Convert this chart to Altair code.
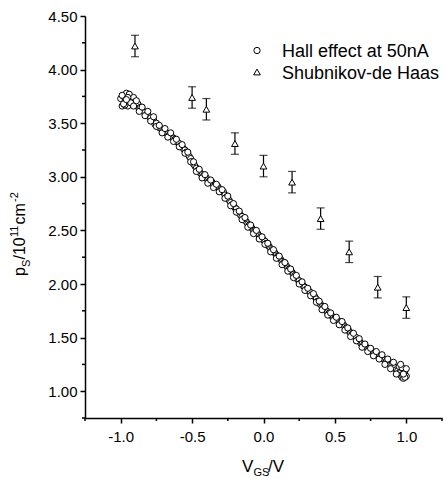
import altair as alt
import pandas as pd

HALL = "Hall effect at 50nA"
SDH = "Shubnikov-de Haas"

# Hall effect sweep (first pass, 0.01 V steps)
hall_x1 = [round(-1.00 + 0.01 * i, 2) for i in range(201)]
hall_y1 = [
    3.73, 3.66, 3.75, 3.70, 3.78, 3.66, 3.77, 3.72, 3.68, 3.74,
    3.70, 3.66, 3.68, 3.64, 3.65, 3.62, 3.61, 3.60, 3.58, 3.58,
    3.56, 3.55, 3.52, 3.53, 3.49, 3.50, 3.47, 3.46, 3.45, 3.44,
    3.43, 3.42, 3.41, 3.40, 3.39, 3.38, 3.37, 3.36, 3.35, 3.33,
    3.32, 3.31, 3.29, 3.28, 3.26, 3.25, 3.23, 3.21, 3.19, 3.17,
    3.14, 3.12, 3.10, 3.08, 3.06, 3.05, 3.03, 3.02, 3.01, 3.00,
    2.99, 2.97, 2.96, 2.95, 2.95, 2.93, 2.92, 2.91, 2.91, 2.89,
    2.88, 2.86, 2.86, 2.83, 2.81, 2.80, 2.78, 2.76, 2.74, 2.73,
    2.71, 2.70, 2.67, 2.66, 2.64, 2.63, 2.61, 2.60, 2.58, 2.56,
    2.55, 2.53, 2.52, 2.50, 2.50, 2.48, 2.47, 2.45, 2.44, 2.42,
    2.41, 2.40, 2.38, 2.36, 2.35, 2.33, 2.32, 2.30, 2.29, 2.27,
    2.26, 2.24, 2.23, 2.21, 2.20, 2.18, 2.17, 2.15, 2.14, 2.12,
    2.11, 2.09, 2.08, 2.06, 2.04, 2.03, 2.01, 2.00, 1.98, 1.97,
    1.95, 1.94, 1.93, 1.92, 1.90, 1.89, 1.88, 1.86, 1.84, 1.82,
    1.81, 1.79, 1.78, 1.77, 1.75, 1.74, 1.73, 1.71, 1.70, 1.69,
    1.68, 1.67, 1.66, 1.65, 1.64, 1.63, 1.62, 1.60, 1.59, 1.57,
    1.56, 1.54, 1.53, 1.52, 1.51, 1.50, 1.48, 1.47, 1.45, 1.44,
    1.43, 1.42, 1.41, 1.40, 1.39, 1.38, 1.37, 1.36, 1.36, 1.35,
    1.34, 1.33, 1.32, 1.31, 1.30, 1.29, 1.28, 1.27, 1.26, 1.25,
    1.25, 1.23, 1.22, 1.20, 1.19, 1.17, 1.15, 1.13, 1.12, 1.19,
    1.14,
]

# Hall effect sweep (second pass, 0.02 V steps)
hall_x2 = [round(-0.99 + 0.02 * i, 2) for i in range(100)]
hall_y2 = [
    3.76, 3.67, 3.74, 3.69, 3.66, 3.71, 3.61, 3.65, 3.57, 3.61,
    3.52, 3.56, 3.47, 3.48, 3.41, 3.45, 3.37, 3.41, 3.33, 3.35,
    3.28, 3.30, 3.22, 3.23, 3.14, 3.14, 3.05, 3.07, 2.99, 3.02,
    2.94, 2.97, 2.90, 2.93, 2.86, 2.88, 2.80, 2.82, 2.73, 2.75,
    2.67, 2.68, 2.60, 2.62, 2.53, 2.55, 2.47, 2.50, 2.42, 2.44,
    2.37, 2.38, 2.30, 2.32, 2.24, 2.26, 2.18, 2.20, 2.12, 2.14,
    2.06, 2.08, 2.00, 2.02, 1.94, 1.96, 1.89, 1.91, 1.83, 1.84,
    1.76, 1.79, 1.71, 1.73, 1.66, 1.69, 1.62, 1.65, 1.57, 1.59,
    1.51, 1.54, 1.47, 1.49, 1.41, 1.44, 1.37, 1.40, 1.33, 1.37,
    1.30, 1.34, 1.25, 1.30, 1.21, 1.27, 1.16, 1.23, 1.22, 1.13,
]

# extra points of the end clusters
hall_x3 = [-0.98, -0.96, 0.96, 0.98, 1.00]
hall_y3 = [3.68, 3.72, 1.25, 1.16, 1.21]

# Shubnikov-de Haas points with error bars
sdh_x = [-0.9, -0.5, -0.4, -0.2, 0.0, 0.2, 0.4, 0.6, 0.8, 1.0]
sdh_y = [4.22, 3.74, 3.63, 3.31, 3.10, 2.95, 2.61, 2.30, 1.97, 1.78]
sdh_err = [0.10, 0.10, 0.10, 0.10, 0.10, 0.10, 0.10, 0.10, 0.10, 0.10]

x_major = [-1.0, -0.5, 0.0, 0.5, 1.0]
x_minor = [-1.25, -0.75, -0.25, 0.25, 0.75, 1.25]
y_major = [1.0, 1.5, 2.0, 2.5, 3.0, 3.5, 4.0, 4.5]
y_minor = [0.75, 1.25, 1.75, 2.25, 2.75, 3.25, 3.75, 4.25]

legend_labels = [HALL, SDH]
legend_shapes = ["circle", "triangle-up"]

FONT = "Liberation Sans"
W, H = 357, 402

hall_df = pd.DataFrame({
    "vg": hall_x1 + hall_x2 + hall_x3,
    "ps": hall_y1 + hall_y2 + hall_y3,
})
sdh_df = pd.DataFrame({
    "vg": sdh_x,
    "ps": sdh_y,
    "lo": [y - e for y, e in zip(sdh_y, sdh_err)],
    "hi": [y + e for y, e in zip(sdh_y, sdh_err)],
})

x_scale = alt.Scale(domain=[-1.25, 1.25], nice=False, zero=False)
y_scale = alt.Scale(domain=[0.75, 4.5], nice=False, zero=False)

x_enc = alt.X(
    "vg:Q",
    scale=x_scale,
    axis=alt.Axis(
        values=x_major,
        title=None,
        labelExpr="(datum.value < 0 ? '-' : '') + format(abs(datum.value), '.1f')",
        tickSize=5,
        labelPadding=6,
    ),
)
y_enc = alt.Y(
    "ps:Q",
    scale=y_scale,
    axis=alt.Axis(
        values=y_major,
        title=None,
        format=".2f",
        tickSize=5,
        labelPadding=3,
    ),
)

hall = alt.Chart(hall_df).mark_point(
    shape="circle", filled=True, fill="white", stroke="black",
    strokeWidth=1, size=38, opacity=1,
).encode(x=x_enc, y=y_enc)

bars = alt.Chart(sdh_df).mark_errorbar(
    ticks=True, size=8, thickness=1.2, color="black"
).encode(
    x=alt.X("vg:Q", scale=x_scale),
    y=alt.Y("lo:Q", scale=y_scale),
    y2="hi:Q",
)

tri = alt.Chart(sdh_df).mark_point(
    shape="triangle-up", filled=True, fill="white", stroke="black",
    strokeWidth=1, size=45, opacity=1,
).encode(x=alt.X("vg:Q", scale=x_scale), y=alt.Y("ps:Q", scale=y_scale))

# minor ticks through the same scales
xminor = alt.Chart(pd.DataFrame({"v": x_minor})).mark_rule(
    color="black", strokeWidth=1.5
).encode(x=alt.X("v:Q", scale=x_scale), y=alt.value(H), y2=alt.value(H + 3))
yminor = alt.Chart(pd.DataFrame({"v": y_minor})).mark_rule(
    color="black", strokeWidth=1.5
).encode(y=alt.Y("v:Q", scale=y_scale), x=alt.value(0), x2=alt.value(-3))

one = pd.DataFrame({"t": [0]})

def txt(s, x, y, size, angle=0):
    return alt.Chart(one).mark_text(
        text=s, font=FONT, fontSize=size, color="black", align="left",
        baseline="alphabetic", angle=angle,
    ).encode(x=alt.value(x), y=alt.value(y))

def sym(shape, x, y, size):
    return alt.Chart(one).mark_point(
        shape=shape, filled=True, fill="white", stroke="black",
        strokeWidth=1, size=size, opacity=1,
    ).encode(x=alt.value(x), y=alt.value(y))

legend_layers = [
    sym(legend_shapes[0], 172, 34.5, 40),
    txt(legend_labels[0], 197, 40.5, 18),
    sym(legend_shapes[1], 172, 56, 45),
    txt(legend_labels[1], 197, 62.5, 18),
]

titles = [
    txt("V", 157, 456, 17),
    txt("GS", 168.5, 460, 11),
    txt("/V", 183, 456, 17),
    txt("p", -60, 260, 16, 270),
    txt("S", -55, 251, 11, 270),
    txt("/10", -60, 243.5, 16, 270),
    txt("11", -67, 221, 11, 270),
    txt("cm", -60, 208.5, 16, 270),
    txt("-2", -67, 186, 11, 270),
]

chart = alt.layer(
    hall, bars, tri, xminor, yminor, *legend_layers, *titles
).properties(
    width=W, height=H,
    autosize=alt.AutoSizeParams(type="none"),
    padding={"left": 85, "top": 16, "right": 3, "bottom": 61},
).configure_view(strokeWidth=0).configure_axis(
    grid=False,
    domainColor="black",
    domainWidth=1.5,
    tickColor="black",
    tickWidth=1.5,
    labelColor="black",
    labelFont=FONT,
    labelFontSize=15,
)

chart.save("out.html", embed_options={"renderer": "svg", "actions": False})
